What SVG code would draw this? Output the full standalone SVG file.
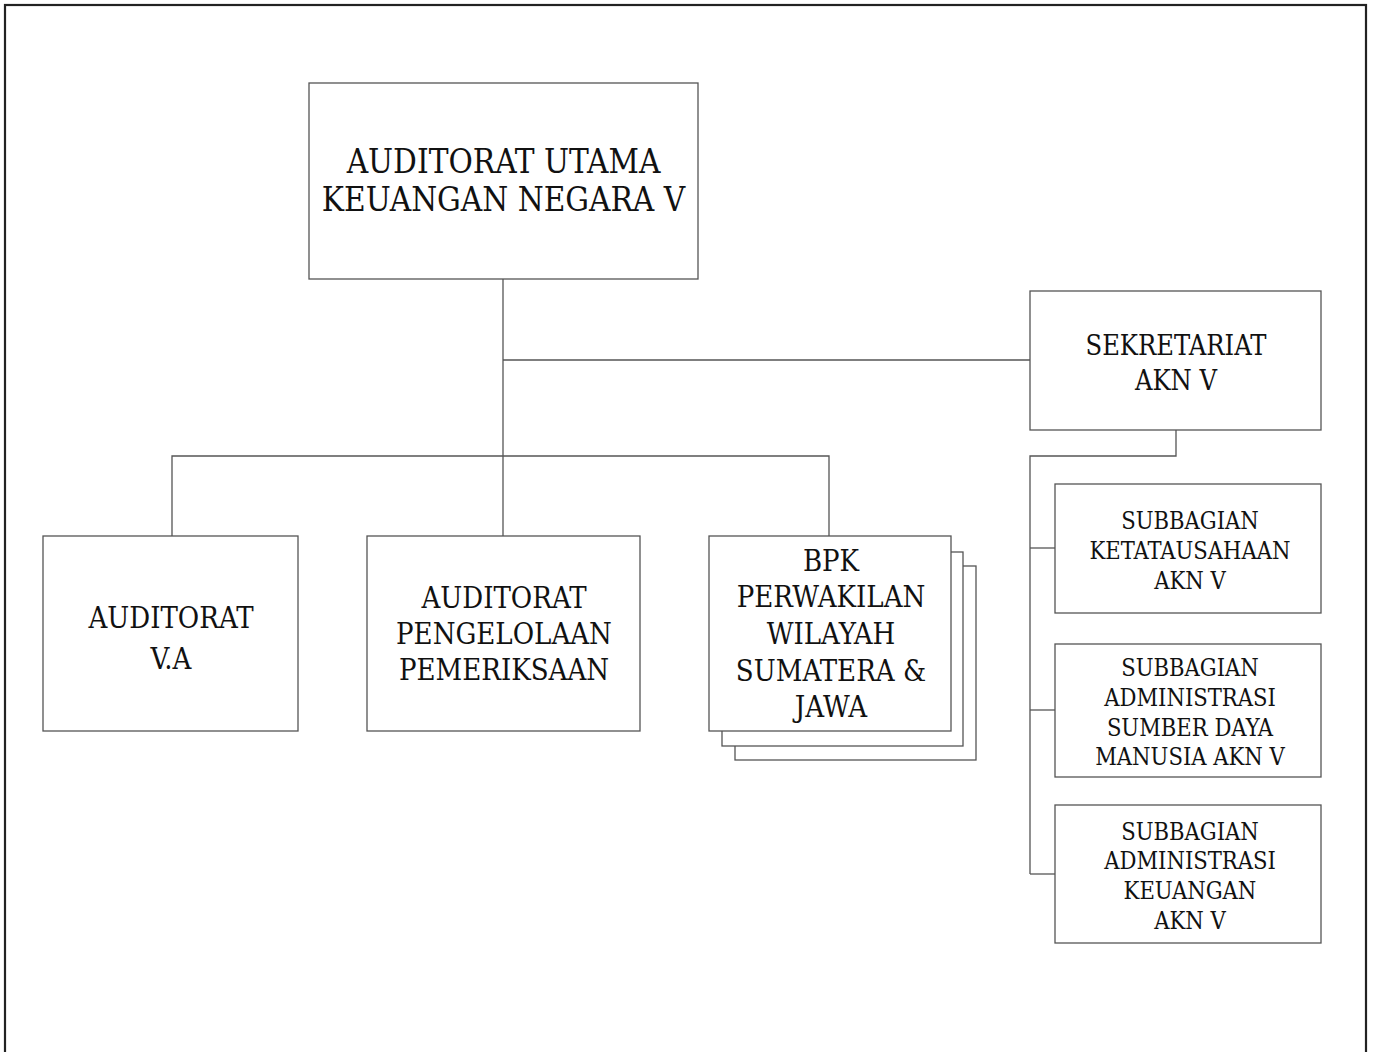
<svg xmlns="http://www.w3.org/2000/svg" width="1376" height="1052" viewBox="0 0 1376 1052">
  <style>
    .box { fill: #ffffff; stroke: #555555; stroke-width: 1.3; }
    .wire { fill: none; stroke: #555555; stroke-width: 1.3; }
    .frame { fill: none; stroke: #222222; stroke-width: 2.2; }
    text { font-family: "DejaVu Serif Condensed", "DejaVu Serif", "Liberation Serif", serif; font-stretch: condensed; fill: #111111; text-anchor: middle; }
    .t33 { font-size: 33px; }
    .t29 { font-size: 29px; }
    .t27 { font-size: 27px; }
    .t23 { font-size: 23.5px; }
  </style>

  <rect class="frame" x="5" y="5" width="1361" height="1070"/>

  <!-- connectors -->
  <g id="connectors">
    <path class="wire" d="M503 279 V536"/>
    <path class="wire" d="M503 360 H1030"/>
    <path class="wire" d="M172 536 V456 H829 V536"/>
    <path class="wire" d="M1176 430 V456 H1030 V874"/>
    <path class="wire" d="M1030 548 H1055"/>
    <path class="wire" d="M1030 710 H1055"/>
    <path class="wire" d="M1030 874 H1055"/>
  </g>

  <g id="auditorat-utama">
    <rect class="box" x="309" y="83" width="389" height="196"/>
    <text class="t33" x="503.5" y="173">AUDITORAT UTAMA</text>
    <text class="t33" x="503.5" y="211">KEUANGAN NEGARA V</text>
  </g>

  <g id="sekretariat">
    <rect class="box" x="1030" y="291" width="291" height="139"/>
    <text class="t27" x="1176" y="355">SEKRETARIAT</text>
    <text class="t27" x="1176" y="390">AKN V</text>
  </g>

  <g id="auditorat-va">
    <rect class="box" x="43" y="536" width="255" height="195"/>
    <text class="t29" x="171" y="628">AUDITORAT</text>
    <text class="t29" x="171" y="669">V.A</text>
  </g>

  <g id="auditorat-pengelolaan">
    <rect class="box" x="367" y="536" width="273" height="195"/>
    <text class="t29" x="504" y="608">AUDITORAT</text>
    <text class="t29" x="504" y="644">PENGELOLAAN</text>
    <text class="t29" x="504" y="680">PEMERIKSAAN</text>
  </g>

  <g id="bpk-perwakilan">
    <rect class="box" x="735" y="566" width="241" height="194"/>
    <rect class="box" x="722" y="552" width="241" height="194"/>
    <rect class="box" x="709" y="536" width="242" height="195"/>
    <text class="t29" x="831" y="571">BPK</text>
    <text class="t29" x="831" y="607">PERWAKILAN</text>
    <text class="t29" x="831" y="644">WILAYAH</text>
    <text class="t29" x="831" y="681">SUMATERA &amp;</text>
    <text class="t29" x="831" y="717">JAWA</text>
  </g>

  <g id="subbagian-ketatausahaan">
    <rect class="box" x="1055" y="484" width="266" height="129"/>
    <text class="t23" x="1190" y="529">SUBBAGIAN</text>
    <text class="t23" x="1190" y="559">KETATAUSAHAAN</text>
    <text class="t23" x="1190" y="589">AKN V</text>
  </g>

  <g id="subbagian-sdm">
    <rect class="box" x="1055" y="644" width="266" height="133"/>
    <text class="t23" x="1190" y="676">SUBBAGIAN</text>
    <text class="t23" x="1190" y="706">ADMINISTRASI</text>
    <text class="t23" x="1190" y="736">SUMBER DAYA</text>
    <text class="t23" x="1190" y="765">MANUSIA AKN V</text>
  </g>

  <g id="subbagian-keuangan">
    <rect class="box" x="1055" y="805" width="266" height="138"/>
    <text class="t23" x="1190" y="840">SUBBAGIAN</text>
    <text class="t23" x="1190" y="869">ADMINISTRASI</text>
    <text class="t23" x="1190" y="899">KEUANGAN</text>
    <text class="t23" x="1190" y="929">AKN V</text>
  </g>
</svg>
